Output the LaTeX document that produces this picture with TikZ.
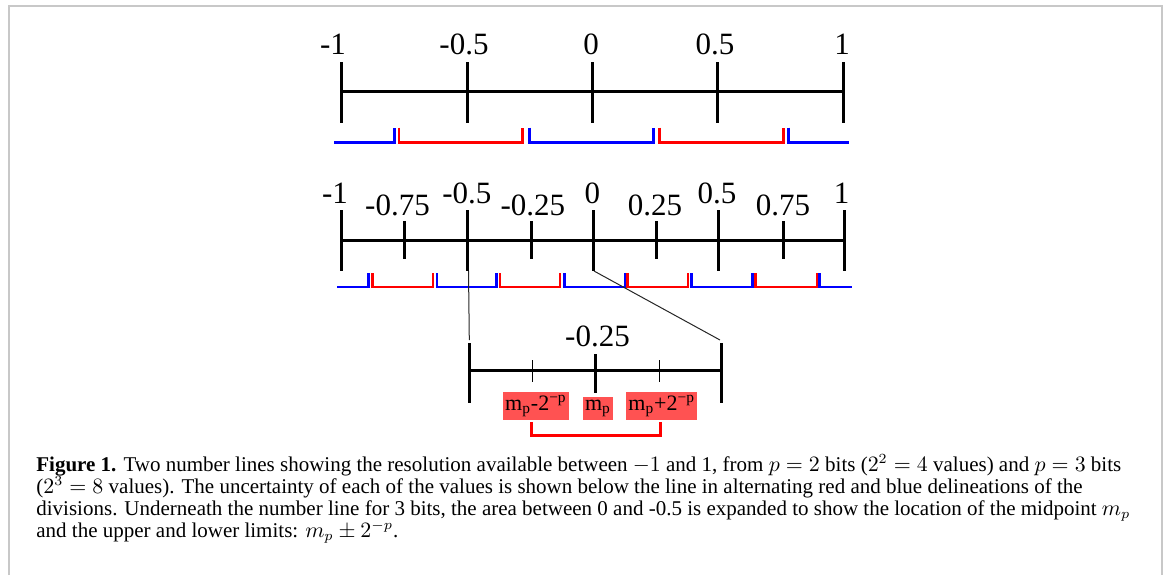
\documentclass[tikz,border=0pt]{standalone}
\usepackage{fontspec}
\setmainfont{Liberation Serif}
\definecolor{brblue}{HTML}{0000FF}
\definecolor{brred}{HTML}{FF0000}
\definecolor{boxred}{HTML}{FF5252}
\definecolor{framegrey}{HTML}{C8C8C8}
\newcommand{\capfont}{\fontsize{10.5}{11}\selectfont\lineskiplimit=-5pt\relax}

\tikzset{
  axis/.style={line width=1.5pt},
  bigtick/.style={line width=1.5pt},
  thintick/.style={line width=0.5pt},
  bluebr/.style={brblue, line width=1.3pt},
  redbr/.style={brred, line width=1.3pt},
  zoomline/.style={line width=0.5pt, black!85},
  numlab/.style={anchor=base, inner sep=0pt, font=\fontsize{15.5}{18}\selectfont},
  mpbox/.style={fill=boxred, anchor=south, inner xsep=1pt, inner ysep=1.5pt, font=\fontsize{11}{13}\selectfont},
  captext/.style={anchor=base west, inner sep=0pt, align=left, font=\capfont},
}

\begin{document}
\begin{tikzpicture}[x=0.5pt,y=-0.5pt]
    \useasboundingbox (0,0) rectangle (1168,575);
    \draw[framegrey, line width=1pt] (8.5,575) -- (8.5,5.5) -- (1162,5.5) -- (1162,575);

    % p = 2 bits
    \draw[axis] (341,91) -- (843,91);
    \draw[bigtick] (341,62) -- (341,123);
    \draw[bigtick] (467,62) -- (467,123);
    \draw[bigtick] (592,62) -- (592,123);
    \draw[bigtick] (717,62) -- (717,123);
    \draw[bigtick] (843,62) -- (843,123);

    \node[numlab] (twoA) at (333,54) {-1};
    \node[numlab] (twoB) at (464,54) {-0.5};
    \node[numlab] (twoC) at (591,54) {0};
    \node[numlab] (twoD) at (715,54) {0.5};
    \node[numlab] (twoE) at (842,54) {1};

    \draw[bluebr] (334,142.5) -- (394.4,142.5) -- (394.4,127.5);
    \draw[redbr] (399,127.5) -- (399,142.5) -- (522.5,142.5) -- (522.5,127.5);
    \draw[bluebr] (529.4,127.5) -- (529.4,142.5) -- (653.5,142.5) -- (653.5,127.5);
    \draw[redbr] (659.7,127.5) -- (659.7,142.5) -- (783.3,142.5) -- (783.3,127.5);
    \draw[bluebr] (788.5,127.5) -- (788.5,142.5) -- (849,142.5);

    % p = 3 bits
    \draw[axis] (341,240) -- (844,240);
    \draw[bigtick] (341,210) -- (341,271);
    \draw[bigtick] (404.4,221) -- (404.4,259);
    \draw[bigtick] (467.4,210) -- (467.4,271);
    \draw[bigtick] (531.8,221) -- (531.8,259);
    \draw[bigtick] (593.8,210) -- (593.8,271);
    \draw[bigtick] (656.4,221) -- (656.4,259);
    \draw[bigtick] (718.8,210) -- (718.8,271);
    \draw[bigtick] (783.2,221) -- (783.2,259);
    \draw[bigtick] (844,210) -- (844,271);

    \node[numlab] (thrA) at (335,203.5) {-1};
    \node[numlab] (thrB) at (397.5,215) {-0.75};
    \node[numlab] (thrC) at (466.8,203.5) {-0.5};
    \node[numlab] (thrD) at (532.8,215) {-0.25};
    \node[numlab] (thrE) at (592.3,203.5) {0};
    \node[numlab] (thrF) at (655,215) {0.25};
    \node[numlab] (thrG) at (717,203.5) {0.5};
    \node[numlab] (thrH) at (783,215) {0.75};
    \node[numlab] (thrI) at (841.7,203.5) {1};

    \draw[bluebr] (337.2,287) -- (368.2,287) -- (368.2,273);
    \draw[redbr] (372.3,273) -- (372.3,287) -- (433,287) -- (433,273);
    \draw[bluebr] (437,273) -- (437,287) -- (496.7,287) -- (496.7,273);
    \draw[redbr] (500,273) -- (500,287) -- (560,287) -- (560,273);
    \draw[bluebr] (564.5,273) -- (564.5,287) -- (624.8,287) -- (624.8,273);
    \draw[redbr] (627.5,273) -- (627.5,287) -- (687.8,287) -- (687.8,273);
    \draw[bluebr] (691.2,273) -- (691.2,287) -- (752.2,287) -- (752.2,273);
    \draw[redbr] (755.6,273) -- (755.6,287) -- (816.9,287) -- (816.9,273);
    \draw[bluebr] (819.3,273) -- (819.3,287) -- (852,287);

    % expanded part between -0.5 and 0
    \coordinate (fromL) at (468.5,271);
    \coordinate (fromR) at (594,271);
    \coordinate (toL) at (469.3,340);
    \coordinate (toR) at (720,340);
    \draw[zoomline] (fromL) -- (toL);
    \draw[zoomline] (fromR) -- (toR);

    \draw[axis] (469.3,370.7) -- (721.7,370.7);
    \draw[bigtick] (469.3,343) -- (469.3,403);
    \draw[bigtick] (721.7,343) -- (721.7,403);
    \draw[bigtick] (595.3,354) -- (595.3,393);
    \draw[thintick] (532.3,360) -- (532.3,382);
    \draw[thintick] (659,360) -- (659,382);
    \node[numlab] (expC) at (597.5,346.5) {-0.25};

    \node[mpbox] (lowlim) at (535.9,420) {m\textsubscript{p}-2\textsuperscript{−p}};
    \node[mpbox] (midpt) at (598,420) {m\textsubscript{p}};
    \node[mpbox] (uplim) at (661.7,420) {m\textsubscript{p}+2\textsuperscript{−p}};
    \draw[redbr] (531.7,422.3) -- (531.7,435.7) -- (660.7,435.7) -- (660.7,422.3);

    % caption (base = last line)
    \node[captext] (cap) at (36,537) {\textbf{Figure 1.} Two number lines showing the resolution available between $-1$ and 1, from $p=2$ bits ($2^2=4$ values) and $p=3$ bits\\
      ($2^3=8$ values). The uncertainty of each of the values is shown below the line in alternating red and blue delineations of the\\
      divisions. Underneath the number line for 3 bits, the area between 0 and -0.5 is expanded to show the location of the midpoint $m_p$\\
      and the upper and lower limits: $m_p\pm 2^{-p}$.};
\end{tikzpicture}
\end{document}
